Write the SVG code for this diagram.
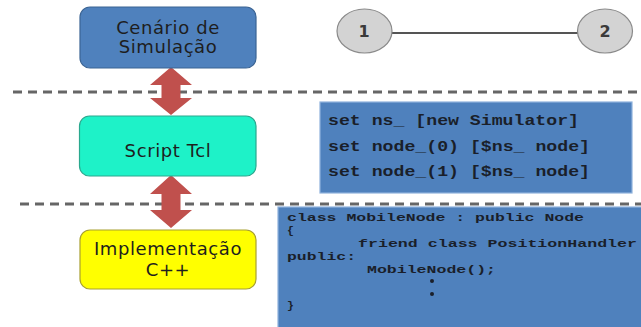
<svg xmlns="http://www.w3.org/2000/svg" width="641" height="327" viewBox="0 0 641 327">
<style>
.box{stroke-width:1.2}
.lbl{font-family:"DejaVu Sans",sans-serif;font-size:18px;letter-spacing:0.6px;fill:#1e1e1e;text-anchor:middle}
.dash{stroke:#666;stroke-width:3;stroke-dasharray:9 6;fill:none}
.arrow{fill:#c0504d}
.node{fill:#d3d3d3;stroke:#8a8a8a;stroke-width:1.2}
.nlbl{font-family:"DejaVu Sans",sans-serif;font-size:16px;font-weight:bold;fill:#3a3a3a;text-anchor:middle}
.code{font-family:"Liberation Mono","Courier New",monospace;font-weight:bold;fill:#1a1f2a}
.cpp{font-size:11.5px}
.panel{fill:#4f81bd;stroke:#8fb2dc;stroke-width:1.2}
</style>
<rect width="641" height="327" fill="#fff"/>
<g id="connectors">
  <line class="dash" x1="13" y1="92" x2="641" y2="92"/>
  <line class="dash" x1="20" y1="204" x2="641" y2="204"/>
  <polygon class="arrow" points="171,67 192,85 180.5,85 180.5,98 192,98 171,115 150,98 161.5,98 161.5,85 150,85"/>
  <polygon class="arrow" points="171,175 192,194 180.5,194 180.5,210 192,210 171,228 150,210 161.5,210 161.5,194 150,194"/>
  <line x1="392" y1="33" x2="578" y2="33" stroke="#555" stroke-width="2"/>
</g>
<g id="cenario">
  <rect class="box" x="80" y="7" width="176" height="61" rx="10" fill="#4f81bd" stroke="#3b6494"/>
  <text class="lbl" x="168" y="34">Cenário de</text>
  <text class="lbl" x="168" y="53">Simulação</text>
</g>
<g id="script">
  <rect class="box" x="79.5" y="116" width="176.5" height="60" rx="10" fill="#1ef2c8" stroke="#2aa88e"/>
  <text class="lbl" x="168" y="157">Script Tcl</text>
</g>
<g id="impl">
  <rect class="box" x="80" y="230" width="176" height="59" rx="10" fill="#ffff00" stroke="#a8a030"/>
  <text class="lbl" x="168" y="255">Implementação</text>
  <text class="lbl" x="168" y="276">C++</text>
</g>
<g id="node1">
  <ellipse class="node" cx="364.5" cy="31" rx="27.5" ry="22"/>
  <text class="nlbl" x="364" y="37">1</text>
</g>
<g id="node2">
  <ellipse class="node" cx="605" cy="31" rx="27.5" ry="22"/>
  <text class="nlbl" x="605" y="37">2</text>
</g>
<g id="tcl">
  <rect class="panel" x="320" y="102" width="312" height="91"/>
  <text class="code" font-size="15.5" x="328" y="125" textLength="251" lengthAdjust="spacingAndGlyphs">set ns_ [new Simulator]</text>
  <text class="code" font-size="15.5" x="328" y="151" textLength="262" lengthAdjust="spacingAndGlyphs">set node_(0) [$ns_ node]</text>
  <text class="code" font-size="15.5" x="328" y="176" textLength="262" lengthAdjust="spacingAndGlyphs">set node_(1) [$ns_ node]</text>
</g>
<g id="cpp">
  <rect class="panel" x="278" y="207" width="370" height="125"/>
  <text class="code cpp" x="287" y="220.5" textLength="297" lengthAdjust="spacingAndGlyphs">class MobileNode : public Node</text>
  <text class="code cpp" x="287" y="233.5">{</text>
  <text class="code cpp" x="358" y="246.5" textLength="279" lengthAdjust="spacingAndGlyphs">friend class PositionHandler</text>
  <text class="code cpp" x="287" y="259.5" textLength="69" lengthAdjust="spacingAndGlyphs">public:</text>
  <text class="code cpp" x="367" y="272.5" textLength="129" lengthAdjust="spacingAndGlyphs">MobileNode();</text>
  <circle cx="432" cy="281" r="2" fill="#1a1f2a"/>
  <circle cx="432" cy="294" r="2" fill="#1a1f2a"/>
  <text class="code cpp" x="287" y="309">}</text>
</g>
</svg>
